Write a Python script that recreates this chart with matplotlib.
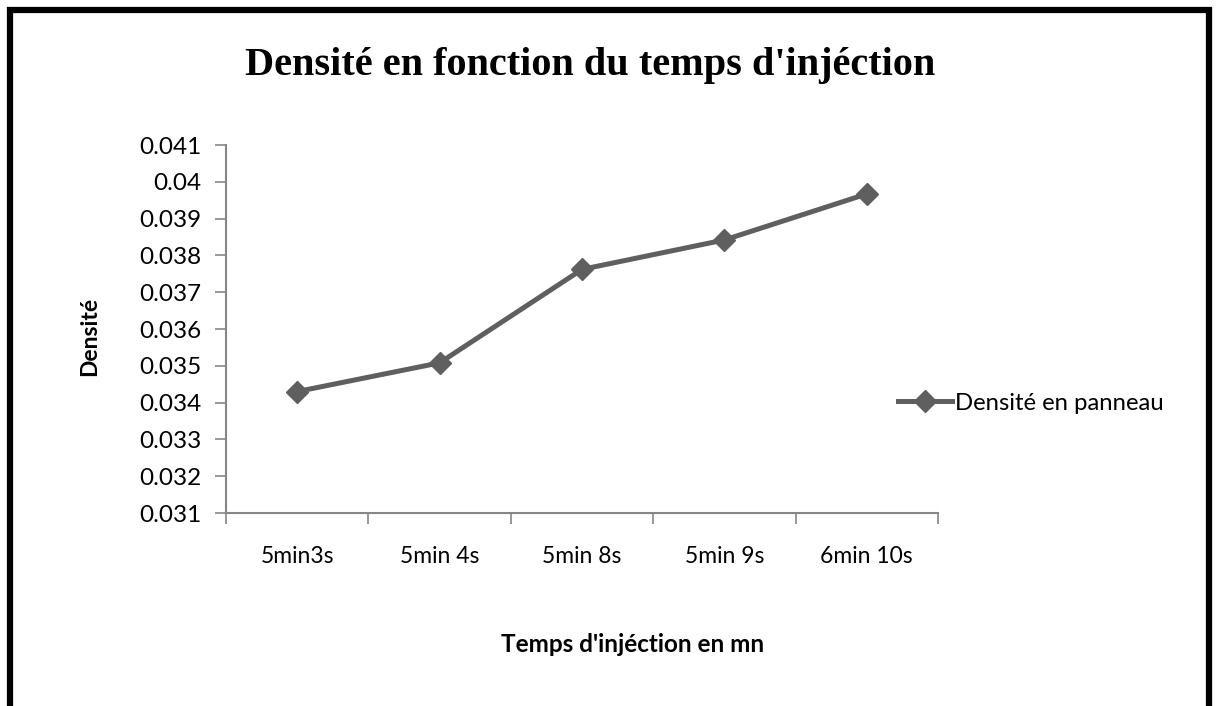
import matplotlib
matplotlib.use("Agg")
import matplotlib.pyplot as plt
from matplotlib.patches import Rectangle

categories = ["5min3s", "5min 4s", "5min 8s", "5min 9s", "6min 10s"]
densite = [0.03430, 0.03508, 0.03762, 0.03842, 0.03967]
yticks = [0.031, 0.032, 0.033, 0.034, 0.035, 0.036, 0.037, 0.038, 0.039, 0.04, 0.041]
ytick_labels = ["0.031", "0.032", "0.033", "0.034", "0.035", "0.036", "0.037",
                "0.038", "0.039", "0.04", "0.041"]

sans = ["Lato", "DejaVu Sans"]
W, H = 1219, 706
fig = plt.figure(figsize=(W / 100, H / 100), dpi=100)
fig.patch.set_facecolor("white")

# border
fig.patches.append(Rectangle((10 / W, -0.05), (W - 20) / W, 1.05 - 10 / H,
                             transform=fig.transFigure, fill=False,
                             edgecolor="black", linewidth=4.5))

ax = fig.add_axes([226 / W, 1 - 513 / H, (938 - 226) / W, (513 - 145) / H])
x = list(range(len(categories)))
line_color = "#5f5f5f"
ax.plot(x, densite, color=line_color, linewidth=3.6, marker="D", markersize=11,
        label="Densité en panneau")
ax.set_xlim(-0.5, len(categories) - 0.5)
ax.set_ylim(0.031, 0.041)
ax.set_yticks(yticks)
ax.set_yticklabels(ytick_labels, fontfamily=sans, fontsize=17.5)
ax.set_xticks([i - 0.5 for i in range(len(categories) + 1)], minor=False)
ax.set_xticklabels([""] * (len(categories) + 1))
ax.set_xticks(x, minor=True)
ax.set_xticklabels(categories, minor=True, fontfamily=sans, fontsize=16.5)
ax.tick_params(axis="x", which="minor", length=0, pad=24)
ax.tick_params(axis="x", which="major", length=8, color="#868686", width=1.2)
ax.tick_params(axis="y", length=8, color="#868686", width=1.2, pad=10)
for s in ["top", "right"]:
    ax.spines[s].set_visible(False)
for s in ["left", "bottom"]:
    ax.spines[s].set_color("#868686")
    ax.spines[s].set_linewidth(1.5)

fig.text(590 / W, 1 - 65 / H, "Densité en fonction du temps d'injéction",
         ha="center", va="center", fontfamily=["Liberation Serif", "DejaVu Serif"],
         fontweight="bold", fontsize=29)
fig.text(90 / W, 1 - 336 / H, "Densité", ha="center", va="center", rotation=90,
         fontfamily=sans, fontweight="bold", fontsize=16.5)
fig.text(633 / W, 1 - 645 / H, "Temps d'injéction en mn", ha="center", va="center",
         fontfamily=sans, fontweight="bold", fontsize=17.5)

leg = ax.legend(loc="center left", bbox_to_anchor=(898 / W, 1 - 403 / H),
                bbox_transform=fig.transFigure, frameon=False,
                prop={"family": sans, "size": 17.2}, handlelength=2.25,
                handletextpad=0.15, borderpad=0, borderaxespad=0)

fig.savefig("out.png", dpi=100, facecolor="white")
